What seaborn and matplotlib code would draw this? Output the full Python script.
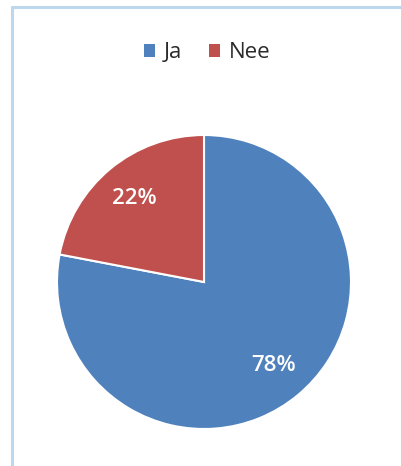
import matplotlib
matplotlib.use("Agg")
import matplotlib.pyplot as plt
from matplotlib.lines import Line2D
from matplotlib.patches import Patch
import seaborn as sns

# Survey answers and their shares (percent)
categories = ["Ja", "Nee"]
shares = [78, 22]
colors = ["#4F81BD", "#C0504D"]

sns.set_theme(style="white")
plt.rcParams["font.family"] = ["Open Sans", "DejaVu Sans"]

W, H = 401, 466
fig = plt.figure(figsize=(W / 100, H / 100), dpi=100)
fig.patch.set_facecolor("white")

# Square axes holding the pie (centre ~ (204, 282) px, radius ~147 px)
cx, cy, r = 204, 282, 147
ax = fig.add_axes([(cx - r) / W, (H - cy - r) / H, 2 * r / W, 2 * r / H])
wedges, texts, autotexts = ax.pie(
    shares,
    colors=colors,
    startangle=90,
    counterclock=False,
    radius=1.0,
    autopct=lambda p: f"{p:.0f}%",
    pctdistance=0.74,
    wedgeprops=dict(edgecolor="white", linewidth=1.5),
    textprops=dict(color="white", fontsize=16, fontweight="semibold"),
)
ax.set_xlim(-1, 1)
ax.set_ylim(-1, 1)
ax.set_aspect("equal")
ax.axis("off")

# Legend across the top
handles = [Patch(facecolor=c, edgecolor="none") for c in colors]
fig.legend(
    handles, categories,
    loc="center", bbox_to_anchor=(207 / W, 1 - 53 / H),
    ncol=2, frameon=False, fontsize=16,
    handlelength=0.5, handleheight=0.5, handletextpad=0.4, columnspacing=1.2,
    labelcolor="#2b2b2b",
)

# Light blue chart-area frame (top and left edges)
frame_color = "#BDD7EE"
fig.add_artist(Line2D([12 / W, 1], [1 - 7 / H, 1 - 7 / H], transform=fig.transFigure,
                      color=frame_color, linewidth=2.2))
fig.add_artist(Line2D([12 / W, 12 / W], [0, 1 - 7 / H], transform=fig.transFigure,
                      color=frame_color, linewidth=2.2))

fig.savefig("out.png", dpi=100, facecolor="white")
